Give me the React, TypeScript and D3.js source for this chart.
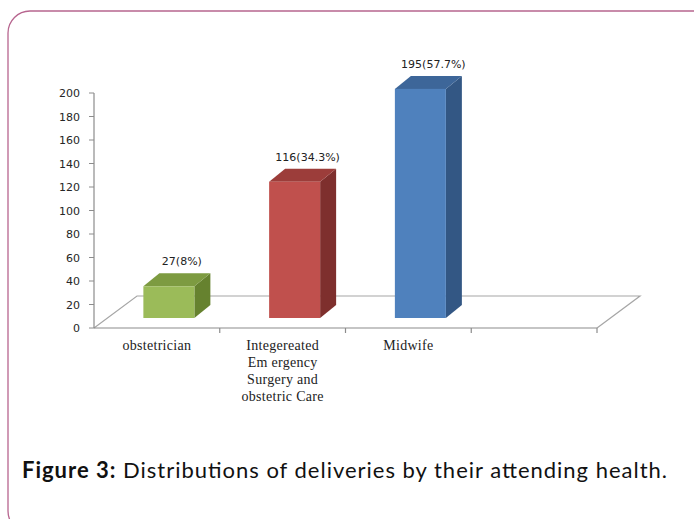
import React from 'react'
import * as d3 from 'd3'

// chart values
const categories = [
  ['obstetrician'],
  ['Integereated', 'Em ergency', 'Surgery and', 'obstetric Care'],
  ['Midwife'],
  []
]
const values = [27, 116, 195]
const percents = ['8%', '34.3%', '57.7%']
const yTicks = [0, 20, 40, 60, 80, 100, 120, 140, 160, 180, 200]
const colors = [
  { front: '#9bbb59', top: '#7d9b41', side: '#66822f' },
  { front: '#c0504d', top: '#9c3d3a', side: '#7e2f2d' },
  { front: '#4f81bd', top: '#3d6699', side: '#335784' }
]

const width = 694
const height = 519

// 3d depth offsets
const floorDepth = { dx: 43, dy: -32 }
const barShift = { dx: 12, dy: -10 }
const barDepth = { dx: 16, dy: -13 }
const barWidth = 51

const App = () => {
  const x = d3
    .scaleBand<number>()
    .domain(categories.map((_, i) => i))
    .range([94, 597])
    .padding(0)

  const y = d3.scaleLinear().domain([0, 200]).range([328, 93])

  const x0 = x.range()[0]
  const x1 = x.range()[1]
  const y0 = y(0)

  return (
    <svg
      width={width}
      height={height}
      viewBox={`0,0,${width},${height}`}
      style={{ position: 'absolute', left: 0, top: 0, background: '#fff' }}
    >
      {/* frame */}
      <rect
        x={8}
        y={11}
        width={730}
        height={522}
        rx={22}
        fill="none"
        stroke="#b7658f"
        strokeWidth={1.3}
      />

      {/* floor */}
      <g fill="none" stroke="#a6a6a6" strokeWidth={1.2}>
        <path
          d={`M${x0},${y0}L${x0 + floorDepth.dx},${y0 + floorDepth.dy}L${x1 + floorDepth.dx},${y0 + floorDepth.dy}L${x1},${y0}`}
        />
        <line x1={x0} x2={x1} y1={y0} y2={y0} stroke="#8c8c8c" />
        {categories.map((_, i) => (
          <line
            key={i}
            x1={(x(i) as number) + x.bandwidth()}
            x2={(x(i) as number) + x.bandwidth()}
            y1={y0}
            y2={y0 + 5}
            stroke="#8c8c8c"
          />
        ))}
      </g>

      {/* y axis */}
      <g>
        <line x1={x0} x2={x0} y1={y(200)} y2={y0} stroke="#8c8c8c" strokeWidth={1.2} />
        {yTicks.map(t => (
          <g key={t}>
            <line x1={x0 - 5} x2={x0} y1={y(t)} y2={y(t)} stroke="#8c8c8c" />
            <text
              x={80}
              y={y(t) + 4}
              textAnchor="end"
              fontFamily="DejaVu Sans"
              fontSize={11}
              fill="#262626"
            >
              {t}
            </text>
          </g>
        ))}
      </g>

      {/* bars */}
      {values.map((v, i) => {
        const c = colors[i]
        const bx = (x(i) as number) + (x.bandwidth() - barWidth) / 2 + barShift.dx
        const by = y0 + barShift.dy
        const h = y0 - y(v)
        const top = by - h
        const { dx, dy } = barDepth
        return (
          <g key={i}>
            <path
              d={`M${bx + barWidth},${by}L${bx + barWidth + dx},${by + dy}L${bx + barWidth + dx},${top + dy}L${bx + barWidth},${top}Z`}
              fill={c.side}
            />
            <path
              d={`M${bx},${top}L${bx + dx},${top + dy}L${bx + barWidth + dx},${top + dy}L${bx + barWidth},${top}Z`}
              fill={c.top}
            />
            <rect x={bx} y={top} width={barWidth} height={h} fill={c.front} />
            <text
              x={bx + barWidth / 2 + 13}
              y={top + dy - 8}
              textAnchor="middle"
              fontFamily="DejaVu Sans"
              fontSize={11}
              fill="#222"
            >
              {`${v}(${percents[i]})`}
            </text>
          </g>
        )
      })}

      {/* category labels */}
      {categories.map((lines, i) => (
        <text
          key={i}
          textAnchor="middle"
          fontFamily="Liberation Serif"
          fontSize={14}
          letterSpacing={0.3}
          fill="#222"
        >
          {lines.map((l, j) => (
            <tspan key={j} x={(x(i) as number) + x.bandwidth() / 2} y={350 + j * 17}>
              {l}
            </tspan>
          ))}
        </text>
      ))}

      {/* caption */}
      <text
        x={22}
        y={478}
        fontFamily="Lato"
        fontSize={22}
        fill="#111"
        textLength={645}
        lengthAdjust="spacing"
      >
        <tspan fontWeight="bold">Figure 3:</tspan>
        <tspan> Distributions of deliveries by their attending health.</tspan>
      </text>
    </svg>
  )
}

export default App
